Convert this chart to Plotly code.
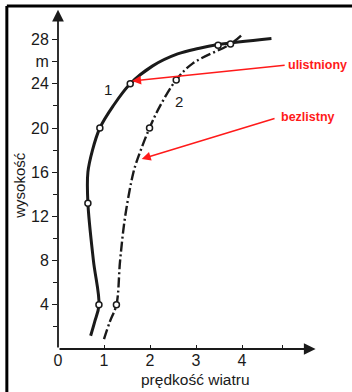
import plotly.graph_objects as go

# Wind speed profiles (m/s) against height (m)
# Curve 1 - tree in leaf (solid), curve 2 - leafless tree (dash-dot)
leaf_height = [1.2, 2.5, 4.0, 8.0, 13.2, 16.0, 18.0, 20.0, 22.0, 24.0, 25.6, 26.7, 27.2, 27.55, 28.1]
leaf_speed = [0.71, 0.80, 0.89, 0.77, 0.65, 0.65, 0.75, 0.91, 1.20, 1.57, 2.05, 2.60, 3.05, 3.48, 4.64]
leaf_pts_height = [4.0, 13.2, 20.0, 24.0, 27.5]
leaf_pts_speed = [0.89, 0.65, 0.91, 1.57, 3.48]

bare_height = [0.9, 2.5, 4.0, 8.0, 12.0, 16.0, 17.2, 20.0, 22.0, 24.35, 25.85, 27.6, 28.4]
bare_speed = [1.00, 1.13, 1.27, 1.35, 1.46, 1.64, 1.73, 1.99, 2.22, 2.57, 2.93, 3.75, 3.99]
bare_pts_height = [4.0, 20.0, 24.35, 27.6]
bare_pts_speed = [1.27, 1.99, 2.57, 3.75]

y_ticks = [4, 8, 12, 16, 20, 24, 26, 28]
y_ticktext = ["4", "8", "12", "16", "20", "24", "m", "28"]
x_ticks = [0, 1, 2, 3, 4, 4.88]
x_ticktext = ["0", "1", "2", "3", "4", ""]

FONT = "Liberation Sans, Arial, Helvetica, sans-serif"
INK = "#1a1a1a"
RED = "#ff1a1a"

fig = go.Figure()

fig.add_trace(go.Scatter(
    x=leaf_speed, y=leaf_height, mode="lines",
    line=dict(color=INK, width=3, shape="spline", smoothing=1.0),
    hoverinfo="skip", showlegend=False))
fig.add_trace(go.Scatter(
    x=bare_speed, y=bare_height, mode="lines",
    line=dict(color=INK, width=2.4, shape="spline", smoothing=1.0,
              dash="10px,3px,2px,3px"),
    hoverinfo="skip", showlegend=False))
fig.add_trace(go.Scatter(
    x=leaf_pts_speed, y=leaf_pts_height, mode="markers",
    marker=dict(symbol="circle", size=6, color="white",
                line=dict(color=INK, width=1.5)),
    hoverinfo="skip", showlegend=False))
fig.add_trace(go.Scatter(
    x=bare_pts_speed, y=bare_pts_height, mode="markers",
    marker=dict(symbol="circle", size=6, color="white",
                line=dict(color=INK, width=1.5)),
    hoverinfo="skip", showlegend=False))

annotations = [
    # axes drawn as arrows from the origin
    dict(x=0, y=30.7, ax=0, ay=0, xref="x", yref="y", axref="x", ayref="y",
         showarrow=True, arrowhead=2, arrowsize=1.3, arrowwidth=1.8,
         arrowcolor=INK, text=""),
    dict(x=5.6, y=0, ax=0, ay=0, xref="x", yref="y", axref="x", ayref="y",
         showarrow=True, arrowhead=2, arrowsize=1.3, arrowwidth=1.8,
         arrowcolor=INK, text=""),
    # units and axis titles
    dict(x=4.2, y=-0.95, xref="x", yref="y", text="m/s", showarrow=False,
         xanchor="left", yanchor="middle", font=dict(family=FONT, size=16, color=INK)),
    dict(x=0.466, y=-0.088, xref="paper", yref="paper", text="prędkość wiatru",
         showarrow=False, xanchor="center", yanchor="middle",
         font=dict(family=FONT, size=15.5, color=INK)),
    dict(x=-0.13, y=0.47, xref="paper", yref="paper", text="wysokość",
         showarrow=False, textangle=-90, xanchor="center", yanchor="middle",
         font=dict(family=FONT, size=15, color=INK)),
    # curve numbers
    dict(x=1.09, y=23.5, xref="x", yref="y", text="1", showarrow=False,
         font=dict(family=FONT, size=15, color=INK)),
    dict(x=2.63, y=22.4, xref="x", yref="y", text="2", showarrow=False,
         font=dict(family=FONT, size=15, color=INK)),
    # red callouts
    dict(x=1.61, y=24.25, ax=4.96, ay=25.7, xref="x", yref="y", axref="x", ayref="y",
         showarrow=True, arrowhead=2, arrowsize=1.2, arrowwidth=1.5,
         arrowcolor=RED, text=""),
    dict(x=4.96, y=25.7, xref="x", yref="y", text="<b>ulistniony</b>",
         showarrow=False, xanchor="left", yanchor="middle",
         font=dict(family=FONT, size=12.5, color=RED)),
    dict(x=1.82, y=17.2, ax=4.74, ay=20.9, xref="x", yref="y", axref="x", ayref="y",
         showarrow=True, arrowhead=2, arrowsize=1.2, arrowwidth=1.5,
         arrowcolor=RED, text=""),
    dict(x=4.8, y=21.0, xref="x", yref="y", text="<b>bezlistny</b>",
         showarrow=False, xanchor="left", yanchor="middle",
         font=dict(family=FONT, size=12.5, color=RED)),
]

# black frame: top and left edges of the page
shapes = [
    dict(type="line", xref="paper", yref="paper", x0=-0.174, x1=1.01,
         y0=0.983, y1=0.983, line=dict(color="black", width=3)),
    dict(type="line", xref="paper", yref="paper", x0=-0.174, x1=-0.174,
         y0=0.983, y1=-0.13, line=dict(color="black", width=3)),
]

fig.update_layout(
    width=352, height=392,
    margin=dict(l=58, r=0, t=0, b=43),
    paper_bgcolor="white", plot_bgcolor="white",
    font=dict(family=FONT, size=16, color=INK),
    showlegend=False,
    annotations=annotations,
    shapes=shapes,
    xaxis=dict(range=[0, 294 / 46], showgrid=False, zeroline=False, showline=False,
               tickmode="array", tickvals=x_ticks, ticktext=x_ticktext,
               ticks="inside", ticklen=4, tickwidth=1.3, tickcolor=INK,
               tickfont=dict(family=FONT, size=16, color=INK), fixedrange=True),
    yaxis=dict(range=[0, 349 / 11.05], showgrid=False, zeroline=False, showline=False,
               tickmode="array", tickvals=y_ticks, ticktext=y_ticktext,
               ticks="outside", ticklen=5, tickwidth=1.3, tickcolor=INK,
               tickfont=dict(family=FONT, size=16, color=INK),
               minor=dict(tickvals=[2, 6, 10, 14, 18, 22], ticks="outside",
                          ticklen=4, tickwidth=1.2, tickcolor=INK),
               fixedrange=True),
)

fig.write_html("out.html", config={"displayModeBar": False})
